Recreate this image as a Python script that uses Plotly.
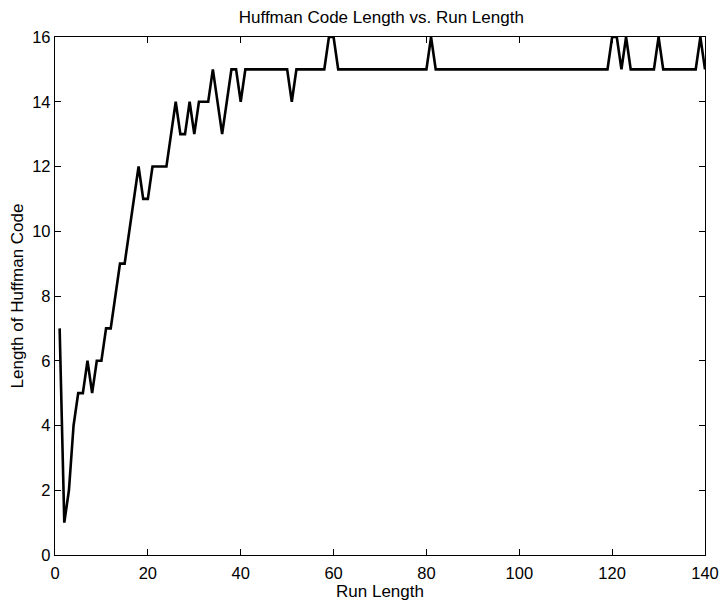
import plotly.graph_objects as go

run_length = list(range(1, 141))
code_length = [
    7, 1, 2, 4, 5, 5, 6, 5, 6, 6,
    7, 7, 8, 9, 9, 10, 11, 12, 11, 11,
    12, 12, 12, 12, 13, 14, 13, 13, 14, 13,
    14, 14, 14, 15, 14, 13, 14, 15, 15, 14,
    15, 15, 15, 15, 15, 15, 15, 15, 15, 15,
    14, 15, 15, 15, 15, 15, 15, 15, 16, 16,
    15, 15, 15, 15, 15, 15, 15, 15, 15, 15,
    15, 15, 15, 15, 15, 15, 15, 15, 15, 15,
    16, 15, 15, 15, 15, 15, 15, 15, 15, 15,
    15, 15, 15, 15, 15, 15, 15, 15, 15, 15,
    15, 15, 15, 15, 15, 15, 15, 15, 15, 15,
    15, 15, 15, 15, 15, 15, 15, 15, 15, 16,
    16, 15, 16, 15, 15, 15, 15, 15, 15, 16,
    15, 15, 15, 15, 15, 15, 15, 15, 16, 15,
]
x_ticks = [0, 20, 40, 60, 80, 100, 120, 140]
y_ticks = [0, 2, 4, 6, 8, 10, 12, 14, 16]

FONT = "Liberation Sans, Arial, Helvetica, sans-serif"

fig = go.Figure()
fig.add_trace(go.Scatter(
    x=run_length, y=code_length, mode="lines",
    line=dict(color="black", width=2.6),
    showlegend=False, hoverinfo="skip",
))

axis_common = dict(
    showgrid=False, zeroline=False, showline=True, linecolor="black",
    linewidth=1.3, mirror="ticks", ticks="inside", ticklen=6,
    tickcolor="black", tickwidth=1, automargin=False,
    tickfont=dict(family=FONT, size=16.5, color="black"),
)

fig.update_layout(
    width=720, height=602,
    margin=dict(l=55, r=15, t=37, b=47),
    paper_bgcolor="white", plot_bgcolor="white",
    title=dict(text="Huffman Code Length vs. Run Length",
               font=dict(family=FONT, size=17, color="black"),
               x=0.502, xanchor="center", xref="paper",
               y=0.972, yanchor="middle", yref="container"),
    xaxis=dict(range=[0, 140], tickvals=x_ticks, ticktext=[str(v) for v in x_ticks],
               ticklabelstandoff=3,
               title=dict(text="Run Length", standoff=1,
                          font=dict(family=FONT, size=17, color="black")),
               **axis_common),
    yaxis=dict(range=[0, 16], tickvals=y_ticks, ticktext=[str(v) for v in y_ticks],
               title=dict(text="Length of Huffman Code", standoff=4,
                          font=dict(family=FONT, size=17, color="black")),
               **axis_common),
)

fig.write_html("out.html")
